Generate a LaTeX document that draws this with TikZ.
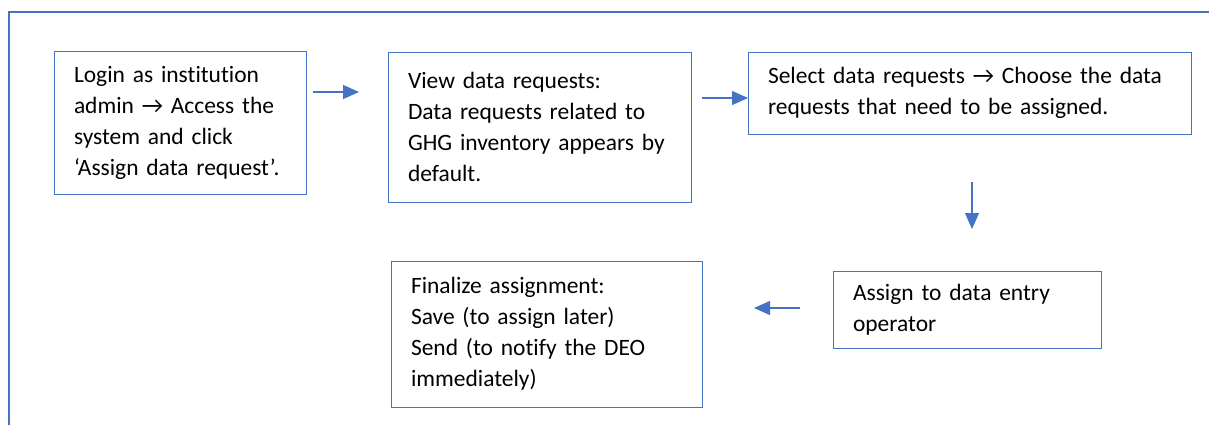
\documentclass[tikz,border=0pt]{standalone}
\usepackage{fontspec}
\setmainfont[Ligatures=NoCommon]{Carlito}
\usetikzlibrary{arrows.meta}
\definecolor{obl}{HTML}{4472C4}
\tikzset{
  stepbox/.style={draw=obl, line width=0.75pt, inner xsep=15pt, inner ysep=0pt,
    align=left, font=\fontsize{17.6}{23.25}\selectfont, text=black},
  flowarr/.style={draw=obl, line width=0.9pt, -{Triangle[length=12pt,width=10.5pt]}},
}
\begin{document}
\begin{tikzpicture}[x=0.75pt,y=-0.75pt]
\useasboundingbox (0,0) rectangle (1209,425);
% frame
\coordinate (fa) at (9,425);
\coordinate (fb) at (9,12);
\coordinate (fc) at (1209,12);
\draw[obl, line width=0.9pt] (fa) -- (fb) -- (fc);
% boxes
\node[stepbox, text width=159pt, minimum height=107.25pt] (b1) at (180,122.5)
  {Login as institution\\admin → Access the\\system and click\\‘Assign data request’.};
\node[stepbox, text width=197.25pt, minimum height=112.5pt] (b2) at (539.5,127)
  {View data requests:\\Data requests related to\\GHG inventory appears by\\default.};
\node[stepbox, text width=302.25pt, minimum height=61.5pt] (b3) at (969.5,93)
  {Select data requests → Choose the data\\requests that need to be assigned.};
\node[stepbox, text width=171pt, minimum height=57.75pt] (b4) at (967,309.5)
  {Assign to data entry\\operator};
\node[stepbox, text width=203.25pt, minimum height=109.5pt] (b5) at (546.5,334)
  {Finalize assignment:\\Save (to assign later)\\Send (to notify the DEO\\immediately)};
% arrows
\coordinate (a1s) at (313,92);  \coordinate (a1e) at (359,92);
\coordinate (a2s) at (702,98);  \coordinate (a2e) at (748,98);
\coordinate (a3s) at (972,182); \coordinate (a3e) at (972,229);
\coordinate (a4s) at (800,308); \coordinate (a4e) at (754,308);
\draw[flowarr] (a1s) -- (a1e);
\draw[flowarr] (a2s) -- (a2e);
\draw[flowarr] (a3s) -- (a3e);
\draw[flowarr] (a4s) -- (a4e);
\end{tikzpicture}
\end{document}
